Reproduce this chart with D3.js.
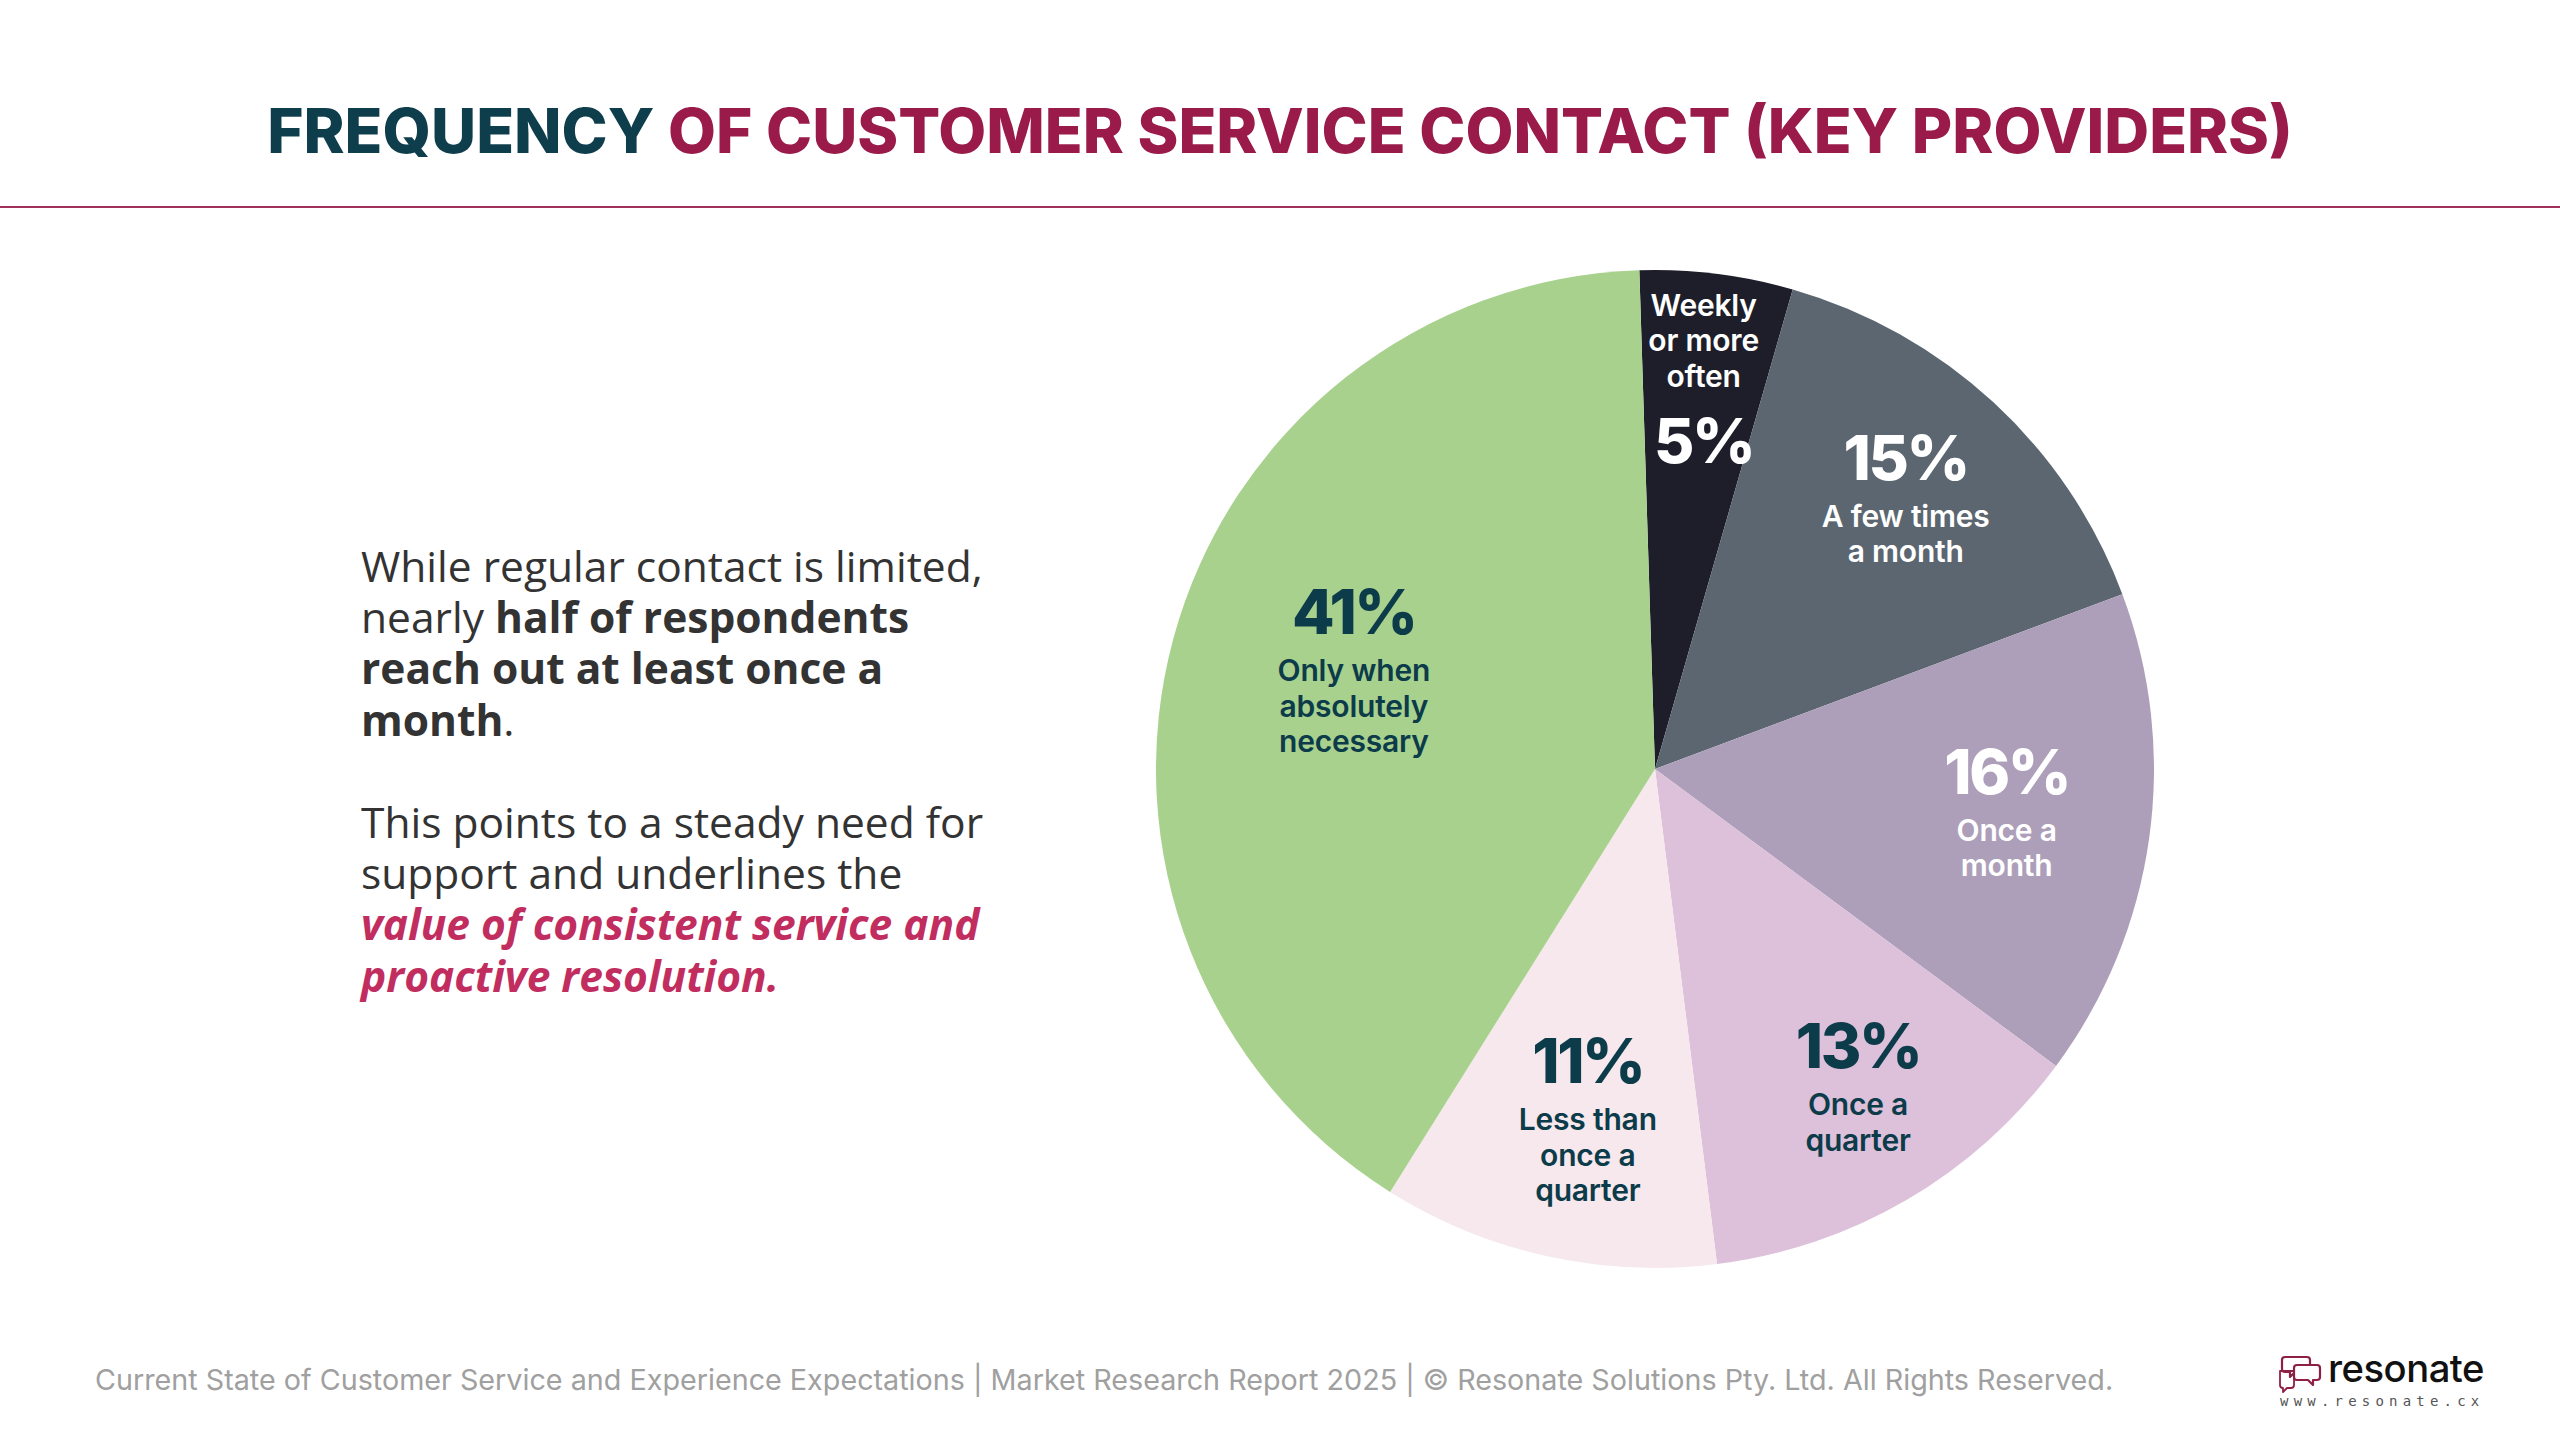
<!DOCTYPE html>
<html>
<head>
<meta charset="utf-8">
<script src="https://cdn.jsdelivr.net/npm/d3@7"></script>
<style>
  html, body { margin: 0; padding: 0; background: #ffffff; }
  svg { display: block; }
</style>
</head>
<body>
<svg id="chart" width="2560" height="1440"></svg>
<script>
// ---------------- DATA ----------------
const categories = [
  "Weekly or more often",
  "A few times a month",
  "Once a month",
  "Once a quarter",
  "Less than once a quarter",
  "Only when absolutely necessary"
];
const values = [5, 15, 16, 13, 11, 41];
const labelLines = [
  ["Weekly", "or more", "often"],
  ["A few times", "a month"],
  ["Once a", "month"],
  ["Once a", "quarter"],
  ["Less than", "once a", "quarter"],
  ["Only when", "absolutely", "necessary"]
];
const titleParts = ["FREQUENCY", " OF CUSTOMER SERVICE CONTACT (KEY PROVIDERS)"];
const footerText = "Current State of Customer Service and Experience Expectations | Market Research Report 2025 | © Resonate Solutions Pty. Ltd. All Rights Reserved.";

// ---------------- STYLE / LAYOUT ----------------
const sliceColors = ["#1e1e2a", "#5b6670", "#ad9fba", "#ddc0d9", "#f6e8ec", "#a8d18d"];
const labelColors = ["#ffffff", "#ffffff", "#ffffff", "#0c3b4a", "#0c3b4a", "#0c3b4a"];
const pctAfterLabel = [true, false, false, false, false, false];
const labelRadiusFactor = [0.787, 0.74, 0.71, 0.755, 0.715, 0.635];
const labelAngleNudgeDeg = [0, 0, -1, -2.3, -1.6, 3];

const svg = d3.select("#chart");
const W = 2560, H = 1440;
svg.append("rect").attr("width", W).attr("height", H).attr("fill", "#ffffff");

function fitWidth(sel, target) {
  const fs = parseFloat(sel.attr("font-size"));
  const w = sel.node().getComputedTextLength();
  sel.attr("font-size", (fs * target / w).toFixed(2));
}

// Title
const title = svg.append("text")
  .attr("x", W / 2).attr("y", 153)
  .attr("text-anchor", "middle")
  .attr("font-family", "Inter, 'Noto Sans', sans-serif")
  .attr("font-weight", 800)
  .attr("font-size", 74);
title.append("tspan").attr("fill", "#0e3d4c").text(titleParts[0]);
title.append("tspan").attr("fill", "#9a1a4a").text(titleParts[1]);
fitWidth(title, 2026);

// Divider line
svg.append("line")
  .attr("x1", 0).attr("x2", W)
  .attr("y1", 207).attr("y2", 207)
  .attr("stroke", "#a0315a").attr("stroke-width", 2);

// Left commentary text
const txt = svg.append("text")
  .attr("font-family", "'Open Sans', sans-serif")
  .attr("font-size", 42.5)
  .attr("fill", "#333333");
const textLines = [
  [{t: "While regular contact is limited,"}],
  [{t: "nearly "}, {t: "half of respondents", b: true}],
  [{t: "reach out at least once a", b: true}],
  [{t: "month", b: true}, {t: "."}],
  null,
  [{t: "This points to a steady need for"}],
  [{t: "support and underlines the"}],
  [{t: "value of consistent service and", b: true, i: true, c: "#c22d5f"}],
  [{t: "proactive resolution.", b: true, i: true, c: "#c22d5f"}]
];
textLines.forEach((segs, li) => {
  if (!segs) return;
  segs.forEach((s, si) => {
    const ts = txt.append("tspan").text(s.t);
    if (si === 0) ts.attr("x", 361).attr("y", 582 + li * 51.2);
    if (s.b) ts.attr("font-weight", 700);
    if (s.i) ts.attr("font-style", "italic");
    if (s.c) ts.attr("fill", s.c);
  });
});

// Pie
const cx = 1655, cy = 769, R = 499;
const startOffset = -1.8 * Math.PI / 180;
const pie = d3.pie().sort(null).value(d => d)
  .startAngle(startOffset).endAngle(startOffset + 2 * Math.PI);
const arcs = pie(values);
const arc = d3.arc().innerRadius(0).outerRadius(R);
const g = svg.append("g").attr("transform", `translate(${cx},${cy})`);
g.selectAll("path.slice").data(arcs).join("path")
  .attr("class", "slice")
  .attr("d", arc)
  .attr("fill", (d, i) => sliceColors[i]);

// Labels
const pctSize = 62, lblSize = 30, lblGap = 35.5, pctToLbl = 60;
arcs.forEach((d, i) => {
  const rr = R * labelRadiusFactor[i];
  const nudge = labelAngleNudgeDeg[i] * Math.PI / 180;
  const la = d3.arc().innerRadius(rr).outerRadius(rr);
  const [lx, ly] = la.centroid({startAngle: d.startAngle + nudge, endAngle: d.endAngle + nudge});
  const lines = labelLines[i];
  const n = lines.length;
  let pctC, lineC;
  if (!pctAfterLabel[i]) {
    pctC = 0;
    lineC = lines.map((_, k) => pctToLbl + k * lblGap);
  } else {
    lineC = lines.map((_, k) => k * lblGap);
    pctC = (n - 1) * lblGap + 63;
  }
  const allTop = Math.min(pctC - 24, lineC[0] - 11);
  const allBot = Math.max(pctC + 24, lineC[n - 1] + 11);
  const shift = ly - (allTop + allBot) / 2;
  const grp = g.append("g").attr("fill", labelColors[i])
    .attr("font-family", "Inter, 'Noto Sans', sans-serif")
    .attr("text-anchor", "middle");
  grp.append("text")
    .attr("x", lx).attr("y", pctC + shift + 23)
    .attr("font-size", pctSize).attr("font-weight", 800)
    .attr("letter-spacing", -2.5)
    .text(values[i] + "%");
  lines.forEach((l, k) => {
    grp.append("text")
      .attr("x", lx).attr("y", lineC[k] + shift + 10)
      .attr("font-size", lblSize).attr("font-weight", 600)
      .attr("letter-spacing", -0.2)
      .text(l);
  });
});

// Footer
const foot = svg.append("text")
  .attr("x", 95).attr("y", 1390)
  .attr("font-family", "Inter, 'Noto Sans', sans-serif")
  .attr("font-size", 28).attr("fill", "#a0a0a0")
  .text(footerText);
fitWidth(foot, 2018);

// Logo
const logo = svg.append("g");
const ic = logo.append("g").attr("fill", "none").attr("stroke", "#8e2048")
  .attr("stroke-width", 2.2).attr("stroke-linejoin", "round");
ic.append("path").attr("d",
  "M2285,1357 h22 a3,3 0 0 1 3,3 v9 a3,3 0 0 1 -3,3 h-12 l-5,5 v-5 h-5 a3,3 0 0 1 -3,-3 v-9 a3,3 0 0 1 3,-3 z");
ic.append("path").attr("d",
  "M2297,1365 h20 a3,3 0 0 1 3,3 v9 a3,3 0 0 1 -3,3 h-4 v5 l-5,-5 h-11 a3,3 0 0 1 -3,-3 v-9 a3,3 0 0 1 3,-3 z")
  .attr("fill", "#ffffff");
ic.append("path").attr("d",
  "M2280,1371 h14 v14 a3,3 0 0 1 -3,3 h-4 l-4,4 v-4 h-0 a3,3 0 0 1 -3,-3 z").attr("stroke-width", 1.8);
const lt = logo.append("text")
  .attr("x", 2328).attr("y", 1382)
  .attr("font-family", "Inter, 'Noto Sans', sans-serif")
  .attr("font-size", 38).attr("font-weight", 500).attr("fill", "#111111")
  .attr("letter-spacing", -0.5)
  .text("resonate");
fitWidth(lt, 156);
logo.append("text")
  .attr("x", 2280).attr("y", 1406)
  .attr("font-family", "'DejaVu Sans Mono', monospace")
  .attr("font-size", 14).attr("fill", "#555555")
  .attr("letter-spacing", 5.2)
  .text("www.resonate.cx");
</script>
</body>
</html>
